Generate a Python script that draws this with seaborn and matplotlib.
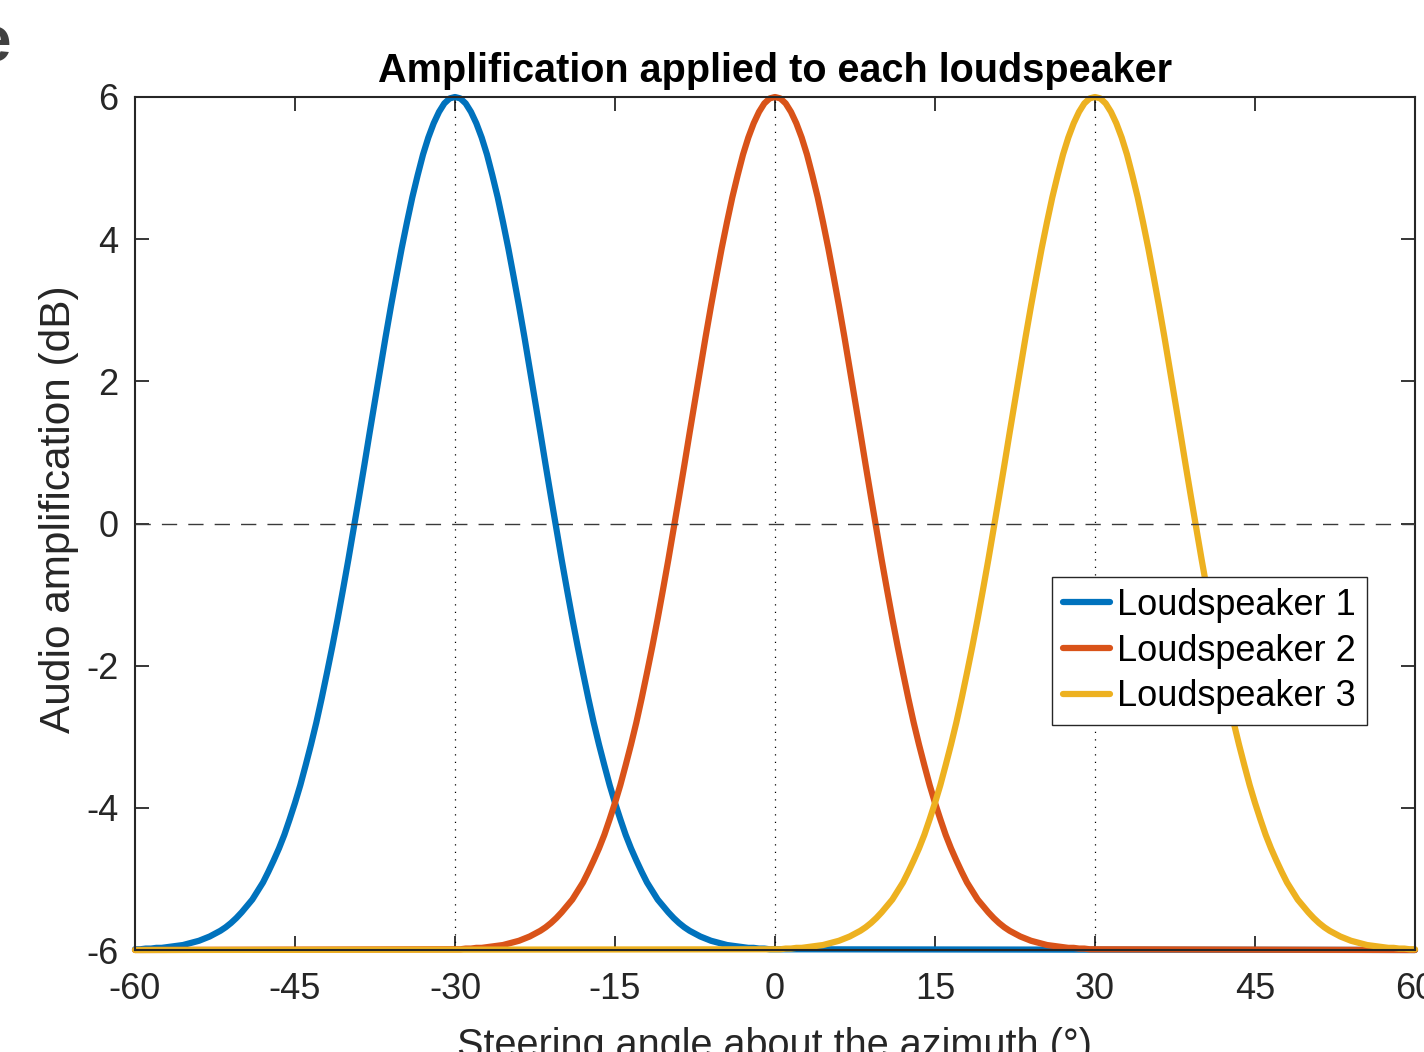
"""Amplification applied to each loudspeaker versus steering angle."""

import matplotlib
import pandas as pd
import seaborn as sns

matplotlib.use("Agg")
import matplotlib.pyplot as plt

# steering angle samples (degrees): half-degree steps across each lobe,
# plus the axis end where the curve stays flat at -6 dB
BLUE_ANGLES = [a / 2 for a in range(-120, 1)] + [60.0]
ORANGE_ANGLES = [-60.0] + [a / 2 for a in range(-60, 61)] + [60.0]
YELLOW_ANGLES = [-60.0] + [a / 2 for a in range(0, 121)]

# audio amplification (dB)
BLUE_DB = [
    -5.99, -5.99, -5.98, -5.98, -5.97, -5.97, -5.96, -5.95, -5.94, -5.93,
    -5.91, -5.89, -5.87, -5.84, -5.81, -5.77, -5.73, -5.68, -5.62, -5.55,
    -5.47, -5.38, -5.29, -5.17, -5.05, -4.90, -4.74, -4.57, -4.38, -4.16,
    -3.93, -3.68, -3.40, -3.11, -2.80, -2.46, -2.10, -1.73, -1.34, -0.93,
    -0.51, -0.07, 0.37, 0.82, 1.28, 1.73, 2.18, 2.63, 3.06, 3.47,
    3.87, 4.24, 4.59, 4.90, 5.19, 5.43, 5.63, 5.79, 5.91, 5.98,
    6.00,
    5.98, 5.91, 5.79, 5.63, 5.43, 5.19, 4.90, 4.59, 4.24, 3.87,
    3.47, 3.06, 2.63, 2.18, 1.73, 1.28, 0.82, 0.37, -0.07, -0.51,
    -0.93, -1.34, -1.73, -2.10, -2.46, -2.80, -3.11, -3.40, -3.68, -3.93,
    -4.16, -4.38, -4.57, -4.74, -4.90, -5.05, -5.17, -5.29, -5.38, -5.47,
    -5.55, -5.62, -5.68, -5.73, -5.77, -5.81, -5.84, -5.87, -5.89, -5.91,
    -5.93, -5.94, -5.95, -5.96, -5.97, -5.97, -5.98, -5.98, -5.99, -5.99,
    -6.00,
]

ORANGE_DB = [
    -6.00,
    -5.99, -5.99, -5.98, -5.98, -5.97, -5.97, -5.96, -5.95, -5.94, -5.93,
    -5.91, -5.89, -5.87, -5.84, -5.81, -5.77, -5.73, -5.68, -5.62, -5.55,
    -5.47, -5.38, -5.29, -5.17, -5.05, -4.90, -4.74, -4.57, -4.38, -4.16,
    -3.93, -3.68, -3.40, -3.11, -2.80, -2.46, -2.10, -1.73, -1.34, -0.93,
    -0.51, -0.07, 0.37, 0.82, 1.28, 1.73, 2.18, 2.63, 3.06, 3.47,
    3.87, 4.24, 4.59, 4.90, 5.19, 5.43, 5.63, 5.79, 5.91, 5.98,
    6.00,
    5.98, 5.91, 5.79, 5.63, 5.43, 5.19, 4.90, 4.59, 4.24, 3.87,
    3.47, 3.06, 2.63, 2.18, 1.73, 1.28, 0.82, 0.37, -0.07, -0.51,
    -0.93, -1.34, -1.73, -2.10, -2.46, -2.80, -3.11, -3.40, -3.68, -3.93,
    -4.16, -4.38, -4.57, -4.74, -4.90, -5.05, -5.17, -5.29, -5.38, -5.47,
    -5.55, -5.62, -5.68, -5.73, -5.77, -5.81, -5.84, -5.87, -5.89, -5.91,
    -5.93, -5.94, -5.95, -5.96, -5.97, -5.97, -5.98, -5.98, -5.99, -5.99,
    -6.00,
]

YELLOW_DB = [
    -6.00,
    -5.99, -5.99, -5.98, -5.98, -5.97, -5.97, -5.96, -5.95, -5.94, -5.93,
    -5.91, -5.89, -5.87, -5.84, -5.81, -5.77, -5.73, -5.68, -5.62, -5.55,
    -5.47, -5.38, -5.29, -5.17, -5.05, -4.90, -4.74, -4.57, -4.38, -4.16,
    -3.93, -3.68, -3.40, -3.11, -2.80, -2.46, -2.10, -1.73, -1.34, -0.93,
    -0.51, -0.07, 0.37, 0.82, 1.28, 1.73, 2.18, 2.63, 3.06, 3.47,
    3.87, 4.24, 4.59, 4.90, 5.19, 5.43, 5.63, 5.79, 5.91, 5.98,
    6.00,
    5.98, 5.91, 5.79, 5.63, 5.43, 5.19, 4.90, 4.59, 4.24, 3.87,
    3.47, 3.06, 2.63, 2.18, 1.73, 1.28, 0.82, 0.37, -0.07, -0.51,
    -0.93, -1.34, -1.73, -2.10, -2.46, -2.80, -3.11, -3.40, -3.68, -3.93,
    -4.16, -4.38, -4.57, -4.74, -4.90, -5.05, -5.17, -5.29, -5.38, -5.47,
    -5.55, -5.62, -5.68, -5.73, -5.77, -5.81, -5.84, -5.87, -5.89, -5.91,
    -5.93, -5.94, -5.95, -5.96, -5.97, -5.97, -5.98, -5.98, -5.99, -5.99,
]

SPEAKERS = ["Loudspeaker 1", "Loudspeaker 2", "Loudspeaker 3"]
COLORS = ["#0072BD", "#D95319", "#EDB120"]
PEAK_ANGLES = [-30, 0, 30]
X_TICKS = [-60, -45, -30, -15, 0, 15, 30, 45, 60]
Y_TICKS = [-6, -4, -2, 0, 2, 4, 6]

AXIS_COLOR = "#262626"


def build_frame() -> pd.DataFrame:
    frames = []
    series = [(BLUE_ANGLES, BLUE_DB), (ORANGE_ANGLES, ORANGE_DB), (YELLOW_ANGLES, YELLOW_DB)]
    for name, (angles, values) in zip(SPEAKERS, series):
        frames.append(pd.DataFrame({"angle": angles, "gain": values, "speaker": name}))
    return pd.concat(frames, ignore_index=True)


def main() -> None:
    sns.set_theme(style="ticks")
    plt.rcParams["font.family"] = ["Liberation Sans", "DejaVu Sans"]
    plt.rcParams["axes.unicode_minus"] = False

    data = build_frame()

    fig = plt.figure(figsize=(14.24, 10.52), dpi=100)
    ax = fig.add_axes([135 / 1424, 102 / 1052, 1280 / 1424, 853 / 1052])

    for angle in PEAK_ANGLES:
        ax.axvline(angle, color="black", linewidth=0.9, linestyle=(0, (1, 5)), zorder=1)

    sns.lineplot(
        data=data,
        x="angle",
        y="gain",
        hue="speaker",
        hue_order=SPEAKERS,
        palette=COLORS,
        estimator=None,
        sort=False,
        linewidth=4.5,
        ax=ax,
    )
    for line in ax.lines:
        line.set_clip_on(False)

    ax.axhline(0, color="#3a3a3a", linewidth=1.0, linestyle=(0, (11, 8)), zorder=3)

    ax.set_xlim(-60, 60)
    ax.set_ylim(-6, 6)
    ax.set_xticks(X_TICKS)
    ax.set_yticks(Y_TICKS)

    ax.tick_params(
        direction="in",
        length=10,
        width=1.3,
        top=True,
        right=True,
        labelsize=26,
        color=AXIS_COLOR,
        labelcolor=AXIS_COLOR,
    )
    ax.tick_params(axis="x", pad=16)
    ax.tick_params(axis="y", pad=12)
    for spine in ax.spines.values():
        spine.set_visible(True)
        spine.set_linewidth(1.5)
        spine.set_color(AXIS_COLOR)

    ax.set_title("Amplification applied to each loudspeaker", fontsize=28.5,
                 fontweight="bold", color="black", pad=11)
    ax.set_xlabel("Steering angle about the azimuth (°)", fontsize=28.5, color=AXIS_COLOR, labelpad=14)
    ax.set_ylabel("Audio amplification (dB)", fontsize=30.5, color=AXIS_COLOR, labelpad=5)
    ax.yaxis.label.set_y((950 - 509) / 853)

    handles, labels = ax.get_legend_handles_labels()
    legend = ax.legend(
        handles=handles,
        labels=labels,
        loc="upper left",
        bbox_to_anchor=(1052 / 1424, 1 - 577 / 1052),
        bbox_transform=fig.transFigure,
        fontsize=26,
        labelcolor="black",
        frameon=True,
        fancybox=False,
        framealpha=1,
        edgecolor=AXIS_COLOR,
        borderpad=0.3,
        borderaxespad=0,
        handlelength=1.3,
        handletextpad=0.2,
        labelspacing=0.3,
    )
    legend.get_frame().set_linewidth(1.0)
    for handle in legend.get_lines():
        handle.set_linewidth(4.5)

    fig.text(0.008, 1 - 45 / 1052, "e", ha="right", va="center", fontsize=46,
             fontweight="bold", color="#404040")

    fig.savefig("out.png", dpi=100)
    plt.close(fig)


if __name__ == "__main__":
    main()
